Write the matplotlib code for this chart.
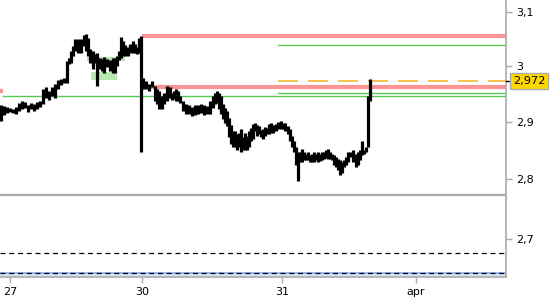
import matplotlib
matplotlib.use("Agg")
import matplotlib.pyplot as plt
from matplotlib.ticker import FixedLocator, NullLocator, NullFormatter, FixedFormatter

# time slots (intraday bars) and their high / low prices
times = [1, 4, 7, 10, 13, 16, 19, 22, 25, 28, 31, 34, 37, 40, 43, 46, 49, 52, 55, 58,
         61, 64, 67, 69, 71, 73, 75, 78, 81, 84, 86, 88, 90, 93, 95, 97, 100, 102, 104, 107,
         110, 113, 115, 117, 119, 121, 123, 125, 128, 130, 133, 135, 137, 139, 141,
         143, 146, 149, 152, 155, 157, 159, 162, 164, 167, 170, 172, 174, 176, 178,
         180, 183, 186, 189, 192, 195, 198, 201, 204, 207, 210, 213, 215, 217, 219,
         221, 223, 225, 227, 229, 231, 233, 235, 237, 239, 241, 243, 245, 247, 249,
         251, 253, 255, 257, 259, 261, 263, 265, 267, 269, 271, 273, 276, 278, 281,
         283, 285, 288, 290, 292, 294, 296, 298, 300, 302, 304, 306, 308, 310, 312,
         314, 316, 318, 320, 322, 324, 326, 328, 330, 332, 334, 336, 338, 340, 342,
         344, 346, 348, 350, 353, 356, 358, 360, 362, 364, 366, 368, 370]
highs = [2.930, 2.928, 2.926, 2.924, 2.923, 2.926, 2.933, 2.937, 2.935, 2.930, 2.933, 2.932, 2.935, 2.937, 2.959, 2.961, 2.955, 2.962, 2.967, 2.975,
         2.977, 2.978, 3.009, 3.014, 3.027, 3.036, 3.050, 3.050, 3.049, 3.058, 3.059, 3.052, 3.032, 3.027, 3.021, 3.023, 3.014, 3.013, 3.016, 3.013,
         3.011, 3.014, 3.014, 3.018, 3.027, 3.054, 3.045, 3.038, 3.034, 3.040, 3.045, 3.041, 3.034, 3.052, 3.056,
         2.978, 2.973, 2.968, 2.973, 2.964, 2.959, 2.955, 2.946, 2.950, 2.964, 2.961, 2.951, 2.955, 2.959, 2.955,
         2.946, 2.937, 2.932, 2.930, 2.926, 2.930, 2.930, 2.932, 2.930, 2.928, 2.937, 2.946, 2.950, 2.955, 2.950,
         2.946, 2.932, 2.924, 2.919, 2.906, 2.894, 2.883, 2.883, 2.878, 2.879, 2.887, 2.872, 2.879, 2.874, 2.883,
         2.888, 2.896, 2.897, 2.894, 2.892, 2.885, 2.887, 2.890, 2.888, 2.896, 2.897, 2.894, 2.896, 2.899, 2.901,
         2.897, 2.897, 2.892, 2.887, 2.874, 2.865, 2.856, 2.847, 2.847, 2.852, 2.847, 2.843, 2.847, 2.842, 2.843,
         2.847, 2.843, 2.847, 2.843, 2.847, 2.847, 2.851, 2.852, 2.847, 2.843, 2.842, 2.838, 2.834, 2.833, 2.829,
         2.833, 2.838, 2.847, 2.847, 2.851, 2.843, 2.847, 2.851, 2.865, 2.851, 2.856, 2.946, 2.977]
lows = [2.901, 2.912, 2.915, 2.917, 2.915, 2.914, 2.919, 2.923, 2.924, 2.917, 2.923, 2.919, 2.923, 2.926, 2.932, 2.942, 2.939, 2.946, 2.942, 2.958,
        2.966, 2.969, 2.969, 3.004, 3.005, 3.018, 3.027, 3.023, 3.023, 3.036, 3.027, 3.018, 3.005, 2.995, 3.005, 2.964, 2.995, 2.991, 2.987, 2.998,
        2.991, 2.987, 2.987, 3.000, 3.011, 3.014, 3.018, 3.018, 3.018, 3.023, 3.023, 3.023, 3.022, 3.023, 2.847,
        2.958, 2.958, 2.955, 2.962, 2.937, 2.932, 2.923, 2.923, 2.932, 2.937, 2.942, 2.939, 2.941, 2.937, 2.937,
        2.933, 2.919, 2.914, 2.914, 2.910, 2.912, 2.914, 2.915, 2.912, 2.914, 2.914, 2.924, 2.932, 2.933, 2.923,
        2.914, 2.905, 2.897, 2.892, 2.872, 2.860, 2.856, 2.856, 2.851, 2.856, 2.847, 2.851, 2.851, 2.851, 2.856,
        2.865, 2.870, 2.883, 2.874, 2.878, 2.872, 2.870, 2.874, 2.878, 2.878, 2.879, 2.879, 2.883, 2.887, 2.887,
        2.887, 2.883, 2.878, 2.865, 2.856, 2.847, 2.825, 2.797, 2.829, 2.829, 2.833, 2.833, 2.833, 2.829, 2.829,
        2.829, 2.833, 2.829, 2.831, 2.833, 2.834, 2.836, 2.834, 2.834, 2.833, 2.824, 2.820, 2.815, 2.807, 2.811,
        2.820, 2.825, 2.829, 2.838, 2.829, 2.820, 2.825, 2.833, 2.842, 2.843, 2.847, 2.856, 2.937]
last_price = 2.972

# levels: (value, x start, x end)
resist_levels = [(3.055, 142, 506), (2.962, 142, 506), (2.955, 0, 3)]
green_levels = [(3.039, 278, 506), (2.951, 278, 506), (2.946, 3, 506)]
zone_boxes = [(87, 125, 3.009, 3.017), (91, 117, 2.975, 2.989)]
gray_level = 2.773
dashed_levels = [2.677, 2.644]

day_ticks = [10, 142, 282, 416]
day_labels = ['27', '30', '31', 'apr']
price_ticks = [2.7, 2.8, 2.9, 3.0, 3.1]
price_labels = ['2,7', '2,8', '2,9', '3', '3,1']

fig = plt.figure(figsize=(5.5, 3.0), dpi=100)
ax = fig.add_axes([0.0, 0.077, 0.92, 0.923])
ax.set_yscale('log')

for x0, x1, y0, y1 in zone_boxes:
    ax.fill_between([x0, x1], y0, y1, color='#b7e8b0', lw=0, zorder=1)

for v, x0, x1 in resist_levels:
    ax.plot([x0, x1], [v, v], color='#f89494', lw=3.0, solid_capstyle='butt', zorder=2)
for v, x0, x1 in green_levels:
    ax.plot([x0, x1], [v, v], color='#55c855', lw=1.0, zorder=2)
ax.plot([278, 506], [last_price, last_price], color='#f8b830', lw=1.2,
        dashes=(12, 6), zorder=2)
ax.axhline(gray_level, color='#a8a8a8', lw=1.6, zorder=2)
ax.axhspan(2.638, 2.644, color='#d8e2f6', lw=0, zorder=1)
ax.axhline(dashed_levels[1], color='#8aaaf0', lw=1.2, zorder=2)
for v in dashed_levels:
    ax.axhline(v, color='black', lw=0.9, dashes=(4, 3), zorder=3)

ax.vlines(times, lows, highs, color='black', lw=2.3, zorder=4)

ax.set_xlim(0, 506)
ax.set_ylim(2.638, 3.123)

ax.yaxis.set_major_locator(FixedLocator(price_ticks))
ax.yaxis.set_major_formatter(FixedFormatter(price_labels))
ax.yaxis.set_minor_locator(NullLocator())
ax.yaxis.set_minor_formatter(NullFormatter())
ax.set_xticks(day_ticks)
ax.set_xticklabels(day_labels)

ax.tick_params(axis='y', left=False, labelleft=False, right=True, labelright=True,
               length=4, width=1, color='#aaaaaa', labelsize=8, pad=3)
ax.tick_params(axis='x', length=4, width=1, color='#aaaaaa', labelsize=8, pad=3)
for s in ['top', 'left']:
    ax.spines[s].set_visible(False)
for s in ['right', 'bottom']:
    ax.spines[s].set_color('#aaaaaa')
    ax.spines[s].set_linewidth(1.2)

# current price marker and label
ax.plot([1.0, 1.012], [last_price, last_price], transform=ax.get_yaxis_transform(),
        color='black', lw=1, clip_on=False, zorder=5)
ax.text(1.014, last_price, '2,972', transform=ax.get_yaxis_transform(),
        ha='left', va='center', fontsize=8.2, zorder=6,
        bbox=dict(boxstyle='square,pad=0.25', facecolor='#ffd700', edgecolor='#aaaaaa', lw=1))

fig.savefig('out.png', dpi=100)
